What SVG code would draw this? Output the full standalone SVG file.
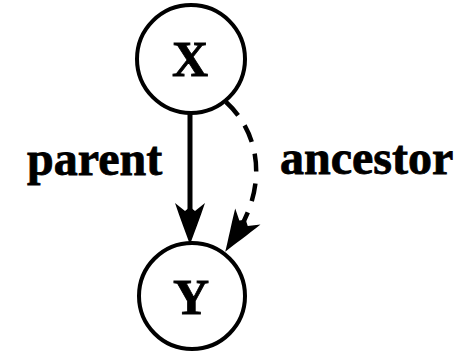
<svg xmlns="http://www.w3.org/2000/svg" width="461" height="352" viewBox="0 0 461 352">
<style>
.node circle{fill:#fff;stroke:#000;stroke-width:4}
text{font-family:"Liberation Serif","Times New Roman",serif;font-weight:bold;fill:#000;stroke:#000;stroke-width:0.8}
.lbl{font-size:48px}
.nt{font-size:50px;text-anchor:middle}
.edge{fill:none;stroke:#000;stroke-width:5}
.dash{stroke-width:4.5;stroke-dasharray:18 12}
</style>
<defs>
<marker id="ah" markerUnits="userSpaceOnUse" viewBox="-44 -17 46 34" refX="-20" refY="0" markerWidth="46" markerHeight="34" orient="auto">
<path d="M0,0 C-12,-4 -27,-10 -42,-15 L-34,-5 L-38,0 L-34,5 L-42,15 C-27,10 -12,4 0,0 Z" fill="#000"/>
</marker>
</defs>
<rect width="461" height="352" fill="#fff"/>
<g id="connectors">
<path class="edge" d="M190,113 L190,225" marker-end="url(#ah)"/>
<path class="edge dash" d="M226,102 C260,133 268,185 236,235" marker-end="url(#ah)"/>
</g>
<g id="X" class="node">
<circle cx="191" cy="59" r="54"/>
<text class="nt" x="190" y="76">X</text>
</g>
<g id="Y" class="node">
<circle cx="192" cy="296" r="53"/>
<text class="nt" x="191" y="314">Y</text>
</g>
<text class="lbl" x="27" y="175">parent</text>
<text class="lbl" x="280" y="174">ancestor</text>
</svg>
